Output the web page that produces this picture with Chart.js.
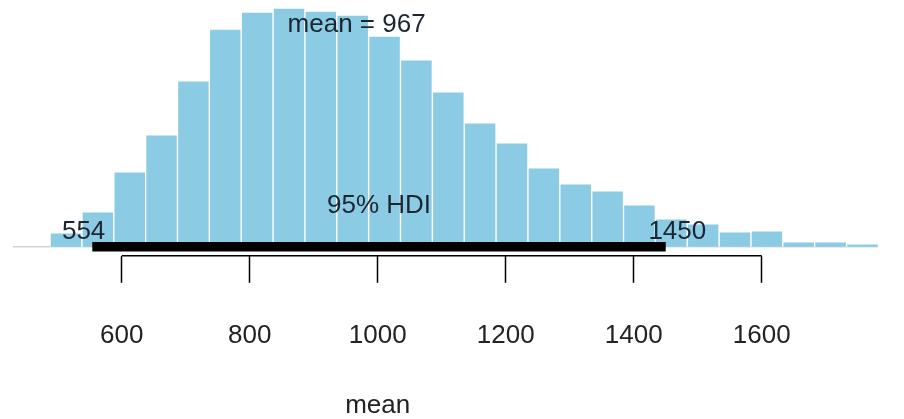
<!DOCTYPE html>
<html><head><meta charset="utf-8">
<script src="https://cdn.jsdelivr.net/npm/chart.js@4/dist/chart.umd.min.js"></script>
<style>html,body{margin:0;padding:0;background:#fff}#wrap{width:904px;height:419px;position:relative}</style>
</head><body><div id="wrap"><canvas id="c"></canvas></div>
<script>
// Histogram of posterior samples of "mean" (bin centres and bar heights)
const binCenters = [512.9, 562.7, 612.5, 662.2, 712.0, 761.8, 811.6, 861.4, 911.1, 960.9,
                    1010.7, 1060.5, 1110.3, 1160.0, 1209.8, 1259.6, 1309.4, 1359.2, 1408.9, 1458.7,
                    1508.5, 1558.3, 1608.1, 1657.8, 1707.6, 1757.4];
const binHeights = [14, 35, 75, 112, 166, 218, 235, 239, 236, 232,
                    211, 187, 155, 124, 104, 79, 63, 56, 42, 28,
                    23, 15, 16, 5, 5, 3];
const tickValues = [600, 800, 1000, 1200, 1400, 1600];
const sampleRange = [430, 1782];
const hdiLow = 554;
const hdiHigh = 1450;
const meanValue = 967;
const hdiLabel = '95% HDI';
const xLabel = 'mean';
const xLabelCentre = 1000;

const FONT = '"Liberation Sans", Arial, Helvetica, sans-serif';
const TEXT = '#1b2630';

const annot = {
  id: 'annot',
  afterDatasetsDraw(chart) {
    const {ctx, chartArea, scales: {x, y}} = chart;
    ctx.save();
    // axis line from first to last tick (R style)
    ctx.strokeStyle = '#000';
    ctx.lineWidth = 1.5;
    ctx.beginPath();
    ctx.moveTo(x.getPixelForValue(tickValues[0]), chartArea.bottom);
    ctx.lineTo(x.getPixelForValue(tickValues[tickValues.length - 1]), chartArea.bottom);
    ctx.stroke();

    ctx.font = '26px ' + FONT;
    ctx.fillStyle = TEXT;
    ctx.textBaseline = 'alphabetic';
    const y0 = y.getPixelForValue(0);
    const maxH = Math.max(...binHeights);
    // central tendency label
    ctx.textAlign = 'center';
    ctx.fillText('mean = ' + meanValue, x.getPixelForValue(meanValue), y.getPixelForValue(0.9 * maxH));
    // HDI label
    ctx.fillText(hdiLabel, x.getPixelForValue((hdiLow + hdiHigh) / 2), y0 - 34);
    // HDI limits
    ctx.textAlign = 'left';
    const lo = String(hdiLow), hi = String(hdiHigh);
    const wLo = ctx.measureText(lo).width, wHi = ctx.measureText(hi).width;
    ctx.fillText(lo, x.getPixelForValue(hdiLow) - 0.7 * wLo, y0 - 8);
    ctx.fillText(hi, x.getPixelForValue(hdiHigh) - 0.3 * wHi, y0 - 8);
    // x-axis title, centred on the plot region as in the original
    ctx.fillStyle = '#222';
    ctx.textAlign = 'center';
    ctx.textBaseline = 'middle';
    ctx.fillText(xLabel, x.getPixelForValue(xLabelCentre), chart.height - 13);
    ctx.restore();
  }
};

new Chart(document.getElementById('c'), {
  type: 'bar',
  data: {
    datasets: [
      {
        type: 'line',
        data: [{x: sampleRange[0], y: 0}, {x: sampleRange[1], y: 0}],
        borderColor: 'rgba(160,176,186,0.8)',
        borderWidth: 1,
        pointRadius: 0,
        order: 3
      },
      {
        type: 'bar',
        data: binCenters.map((c, i) => ({x: c, y: binHeights[i]})),
        backgroundColor: 'rgb(140,203,228)',
        borderColor: '#ffffff',
        borderWidth: 1,
        barPercentage: 1,
        categoryPercentage: 1,
        order: 2
      },
      {
        type: 'line',
        data: [{x: hdiLow, y: 0}, {x: hdiHigh, y: 0}],
        borderColor: '#000',
        borderWidth: 9.5,
        borderCapStyle: 'butt',
        pointRadius: 0,
        order: 1
      }
    ]
  },
  options: {
    responsive: true,
    maintainAspectRatio: false,
    animation: false,
    layout: {padding: {left: 0, right: 0, top: 0, bottom: 31}},
    plugins: {legend: {display: false}, tooltip: {enabled: false}, title: {display: false}},
    scales: {
      x: {
        type: 'linear',
        min: 409.8,
        max: 1822.3,
        offset: false,
        afterBuildTicks: s => { s.ticks = tickValues.map(v => ({value: v})); },
        grid: {display: true, offset: false, drawOnChartArea: false, drawTicks: true, tickLength: 27,
               tickColor: '#000', tickWidth: 1.5, color: '#000'},
        border: {display: false},
        ticks: {font: {family: FONT, size: 26}, color: '#222', padding: 37,
                maxRotation: 0, autoSkip: false, callback: v => String(v)},
        title: {display: false}
      },
      y: {display: false, min: -9, max: 247}
    }
  },
  plugins: [annot]
});
</script>
</body></html>
